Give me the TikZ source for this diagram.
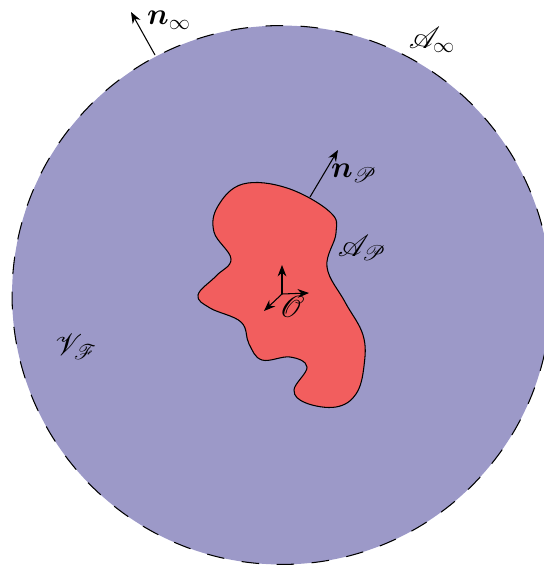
\documentclass[tikz,border=0pt]{standalone}
\usepackage{amsmath,bm,mathrsfs}
\usetikzlibrary{arrows.meta}

\definecolor{fluidblue}{RGB}{156,153,200}
\definecolor{bodyred}{RGB}{242,94,94}

\begin{document}
\begin{tikzpicture}[
    x=0.02cm, y=-0.02cm,
    lab/.style={font=\LARGE, inner sep=0.5pt},
    vec/.style={-{Stealth[length=6.5pt,width=5pt]}, line width=0.6pt},
  ]
  \useasboundingbox (0,0) rectangle (544,568);

  % ---------------- outer boundary (far field) -----------------------------
  \def\R{5.39cm}
  \coordinate (c) at (281.5,295);
  \fill[fluidblue] (c) circle (\R);
  \draw[line width=0.6pt, dash pattern=on 10pt off 10pt] (c) circle (\R);

  % ---------------- the body ------------------------------------------------
  \def\body{plot[smooth cycle, tension=0.65] coordinates {
      (243,184) (287,188) (330,212) (336,233) (327,267) (345,302)
      (363,335) (364,366) (356,394) (336,407) (306,403) (294,390)
      (307,367) (290,357) (262,360) (249,344) (241,322) (210,308)
      (198,295) (216,276) (231,259) (214,232) (218,206)}}
  \fill[bodyred] \body;
  \draw[line width=0.6pt] \body;

  % ---------------- normals -------------------------------------------------
  \coordinate (pinf) at (155,55);
  \coordinate (tinf) at (131,12);
  \draw[vec] (pinf) -- (tinf);
  \coordinate (pbody) at (310,197);
  \coordinate (tbody) at (338,150);
  \draw[vec] (pbody) -- (tbody);

  % ---------------- reference frame ----------------------------------------
  \coordinate (o)  at (282,294);
  \coordinate (oy) at (282,265);
  \coordinate (ox) at (309,293);
  \coordinate (oz) at (264,311);
  \draw[vec] (o) -- (oy);
  \draw[vec] (o) -- (ox);
  \draw[vec] (o) -- (oz);

  % ---------------- labels --------------------------------------------------
  \node[lab] (ninf)  at (169,20)  {$\bm{n}_\infty$};
  \node[lab] (ainf)  at (432,40)  {$\mathscr{A}_\infty$};
  \node[lab] (nbody) at (354,173) {$\bm{n}_\mathscr{P}$};
  \node[lab] (abody) at (362,248) {$\mathscr{A}_\mathscr{P}$};
  \node[lab] (orig)  at (292,307) {$\mathscr{O}$};
  \node[lab] (vol)   at (76,347)  {$\mathscr{V}_\mathscr{F}$};

\end{tikzpicture}
\end{document}
